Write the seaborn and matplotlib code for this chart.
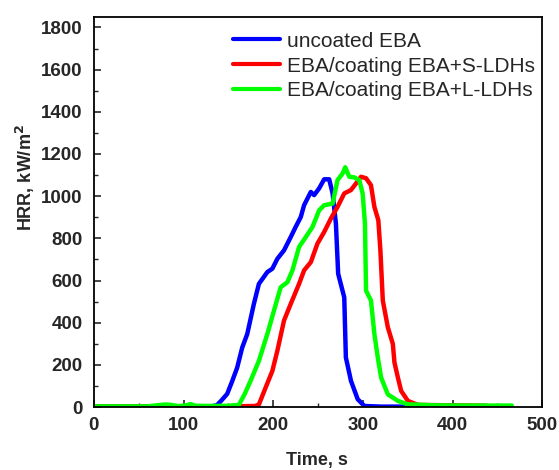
import numpy as np
import pandas as pd
import matplotlib
matplotlib.use("Agg")
import matplotlib.pyplot as plt
from matplotlib.ticker import MultipleLocator
import seaborn as sns

# HRR curves (time in s, HRR in kW/m2)
labels = ["uncoated EBA", "EBA/coating EBA+S-LDHs", "EBA/coating EBA+L-LDHs"]
colors = ["#0000FF", "#FF0000", "#00FF00"]

t_blue = [0, 50, 100, 130, 137, 142, 148.6, 154, 159.8, 165.4, 171, 178.4, 184,
          193.4, 199, 204.6, 212, 219.5, 225, 230.7, 234.4, 241.9, 245.6, 251.2,
          256.8, 262.4, 266.2, 269.9, 272.4, 279.2, 281, 286.7, 294.2, 301.6, 320, 357]
hrr_blue = [2, 2, 2, 3, 8, 30, 62, 120, 187, 282, 346, 489, 584,
            640, 656, 703, 743, 806, 854, 901, 957, 1020, 1005, 1037,
            1080, 1080, 1013, 870, 632, 520, 235, 124, 37, 5, 2, 2]

t_red = [0, 100, 150, 180, 184, 191.5, 199, 204.6, 212, 219.5, 228.8, 234.4,
         241.9, 249.3, 256.8, 264.3, 271.7, 279.2, 286.7, 292.3, 297.9, 303.5,
         309, 312.8, 317.2, 319.5, 322.2, 327.8, 333.4, 335.2, 339, 342.7, 350.2,
         361.4, 400, 438]
hrr_red = [3, 3, 3, 5, 12, 92, 171, 267, 410, 489, 584, 648,
           687, 775, 830, 894, 949, 1013, 1029, 1060, 1092, 1085,
           1052, 949, 886, 743, 505, 378, 299, 211, 140, 76, 29,
           10, 8, 6]

t_green = [0, 60, 74, 80, 86, 95, 103, 108, 113, 130, 150, 161.6, 168, 174.7,
           184, 193.4, 200.8, 208.3, 215.8, 221.4, 228.8, 236.3, 243.8, 251.2,
           256.8, 266.2, 271.7, 277.4, 280.3, 284.8, 290.4, 296, 299.7, 302.3,
           303.5, 309, 312.8, 316.6, 320.3, 327.8, 339, 350, 380, 420, 466]
hrr_green = [3, 3, 10, 12, 10, 4, 8, 14, 6, 5, 6, 10, 60, 124,
             219, 346, 457, 568, 592, 648, 759, 806, 854, 933,
             957, 965, 1076, 1108, 1137, 1092, 1089, 1076, 1013, 870,
             552, 505, 346, 235, 140, 60, 29, 13, 8, 7, 7]

df = pd.concat([
    pd.DataFrame({"Time": t_blue, "HRR": hrr_blue, "Sample": labels[0]}),
    pd.DataFrame({"Time": t_red, "HRR": hrr_red, "Sample": labels[1]}),
    pd.DataFrame({"Time": t_green, "HRR": hrr_green, "Sample": labels[2]}),
], ignore_index=True)

sns.set_style("ticks")
plt.rcParams["font.family"] = ["Liberation Sans", "DejaVu Sans"]

fig = plt.figure(figsize=(5.59, 4.70), dpi=100)
ax = fig.add_axes([0.168, 0.134, 0.802, 0.830])

sns.lineplot(data=df, x="Time", y="HRR", hue="Sample", hue_order=labels,
             palette=colors, estimator=None, sort=False, linewidth=3.2, ax=ax)

ax.set_xlim(0, 500)
ax.set_ylim(0, 1850)
ax.xaxis.set_major_locator(MultipleLocator(100))
ax.xaxis.set_minor_locator(MultipleLocator(50))
ax.yaxis.set_major_locator(MultipleLocator(200))
ax.yaxis.set_minor_locator(MultipleLocator(100))
ax.tick_params(which="major", direction="in", length=5, width=1.2, labelsize=13.5, pad=7)
ax.tick_params(axis="y", which="major", pad=8)
ax.tick_params(which="minor", direction="in", length=3, width=1.0)
for lab in ax.get_xticklabels() + ax.get_yticklabels():
    lab.set_fontweight("bold")
for sp in ax.spines.values():
    sp.set_visible(True)
    sp.set_linewidth(1.3)
    sp.set_color("black")

ax.set_xlabel("Time, s", fontsize=13, fontweight="bold")
ax.set_ylabel("HRR, kW/m$^\\mathbf{2}$", fontsize=13, fontweight="bold")
ax.xaxis.set_label_coords(0.498, -0.116)
ax.yaxis.set_label_coords(-0.126, 0.587)

ax.legend(loc="upper left", bbox_to_anchor=(0.31, 0.962), frameon=False,
          fontsize=15, handlelength=2.26, handletextpad=0.34, labelspacing=0.28,
          borderaxespad=0, borderpad=0)
for line in ax.get_legend().get_lines():
    line.set_linewidth(3)

fig.savefig("out.png", dpi=100)
